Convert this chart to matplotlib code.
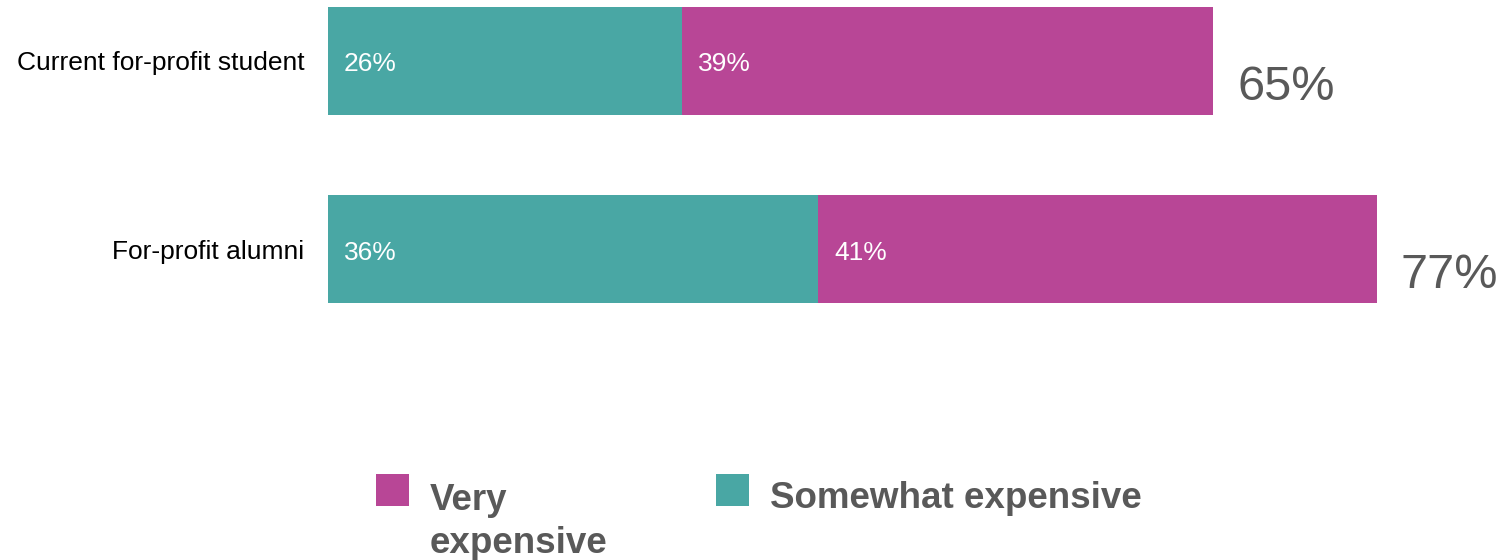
import matplotlib.pyplot as plt
from matplotlib.patches import Rectangle

plt.rcParams['font.family'] = ['Liberation Sans', 'DejaVu Sans']

# data
groups = ['Current for-profit student', 'For-profit alumni']
somewhat = [26, 36]
very = [39, 41]
totals = [65, 77]

teal = '#49A7A4'
magenta = '#B84696'
grey = '#595959'

W, H = 1505, 560
fig = plt.figure(figsize=(W / 100, H / 100), dpi=100)

# px per percent ~13.62, bars start at x=328 px
px_per = 13.62
x0 = 328
xmax = (W - x0) / px_per
ax = fig.add_axes([x0 / W, 0, 1 - x0 / W, 1])
step = 188.0
top = -61 / step
bottom = (H - 61) / step
ax.set_xlim(0, xmax)
ax.set_ylim(bottom, top)

ypos = list(range(len(groups)))
bh = 108 / step
ax.barh(ypos, somewhat, height=bh, color=teal, edgecolor='none')
ax.barh(ypos, very, left=somewhat, height=bh, color=magenta, edgecolor='none')

pad = 16 / px_per
for y, s, v, t in zip(ypos, somewhat, very, totals):
    ax.text(pad, y + 10.5 / step, f'{s}%', color='white', fontsize=19, va='baseline', ha='left')
    ax.text(s + pad, y + 10.5 / step, f'{v}%', color='white', fontsize=19, va='baseline', ha='left')
    ax.text(s + v + 24 / px_per, y + 39 / step, f'{t}%', color=grey, fontsize=35,
            va='baseline', ha='left', clip_on=False)

ax.set_yticks(ypos)
ax.set_yticklabels(groups, fontsize=19, color='black')
ax.tick_params(axis='y', length=0, pad=17)
ax.set_xticks([])
for sp in ax.spines.values():
    sp.set_visible(False)
ax.patch.set_visible(False)

# legend drawn by hand
fig.patches.append(Rectangle((376 / W, 1 - 506 / H), 33 / W, 32 / H, transform=fig.transFigure,
                             facecolor=magenta, edgecolor='none'))
fig.patches.append(Rectangle((716 / W, 1 - 506 / H), 33 / W, 32 / H, transform=fig.transFigure,
                             facecolor=teal, edgecolor='none'))
# multi-line baseline aligns on the last line
fig.text(430 / W, 1 - 553 / H, 'Very\nexpensive', fontsize=26.5, fontweight='bold', color=grey,
         va='baseline', ha='left', linespacing=1.3)
fig.text(770 / W, 1 - 508 / H, 'Somewhat expensive', fontsize=26.5, fontweight='bold', color=grey,
         va='baseline', ha='left')

fig.savefig('out.png', dpi=100)
